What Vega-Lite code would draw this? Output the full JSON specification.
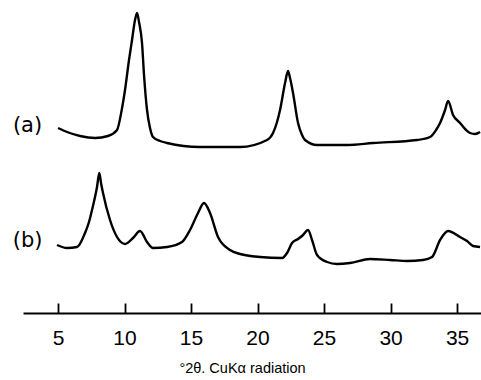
{
  "$schema": "https://vega.github.io/schema/vega-lite/v6.json",
  "width": 458,
  "height": 313,
  "autosize": "none",
  "padding": {"left": 23, "right": 0, "top": 0, "bottom": 67},
  "config": {"view": {"stroke": null}, "font": "Liberation Sans"},
  "datasets": {
    "curves": [
      {"series": "a", "x": 5.00, "y": 185}, {"series": "a", "x": 5.68, "y": 181}, {"series": "a", "x": 6.654, "y": 177},
      {"series": "a", "x": 7.782, "y": 175}, {"series": "a", "x": 8.759, "y": 177}, {"series": "a", "x": 9.436, "y": 183},
      {"series": "a", "x": 9.789, "y": 203}, {"series": "a", "x": 10.037, "y": 223}, {"series": "a", "x": 10.338, "y": 253},
      {"series": "a", "x": 10.564, "y": 273}, {"series": "a", "x": 10.789, "y": 293}, {"series": "a", "x": 10.94, "y": 300},
      {"series": "a", "x": 11.09, "y": 291}, {"series": "a", "x": 11.316, "y": 270}, {"series": "a", "x": 11.466, "y": 238},
      {"series": "a", "x": 11.692, "y": 203}, {"series": "a", "x": 11.917, "y": 185}, {"series": "a", "x": 12.143, "y": 176},
      {"series": "a", "x": 12.669, "y": 172}, {"series": "a", "x": 13.195, "y": 170}, {"series": "a", "x": 15.677, "y": 166},
      {"series": "a", "x": 18.684, "y": 166}, {"series": "a", "x": 20.714, "y": 173}, {"series": "a", "x": 21.165, "y": 180},
      {"series": "a", "x": 21.466, "y": 191}, {"series": "a", "x": 21.692, "y": 203}, {"series": "a", "x": 22.068, "y": 230},
      {"series": "a", "x": 22.293, "y": 242}, {"series": "a", "x": 22.444, "y": 235}, {"series": "a", "x": 22.669, "y": 220},
      {"series": "a", "x": 23.045, "y": 190}, {"series": "a", "x": 23.346, "y": 178}, {"series": "a", "x": 23.571, "y": 173},
      {"series": "a", "x": 24.474, "y": 168}, {"series": "a", "x": 26.729, "y": 168}, {"series": "a", "x": 28.684, "y": 170},
      {"series": "a", "x": 31.992, "y": 173}, {"series": "a", "x": 32.97, "y": 176}, {"series": "a", "x": 33.421, "y": 183},
      {"series": "a", "x": 33.722, "y": 190}, {"series": "a", "x": 34.098, "y": 203}, {"series": "a", "x": 34.323, "y": 212},
      {"series": "a", "x": 34.699, "y": 198}, {"series": "a", "x": 35.226, "y": 190}, {"series": "a", "x": 35.677, "y": 183},
      {"series": "a", "x": 35.977, "y": 180}, {"series": "a", "x": 36.353, "y": 179}, {"series": "a", "x": 36.729, "y": 181},
      {"series": "b", "x": 4.924, "y": 68}, {"series": "b", "x": 5.68, "y": 65}, {"series": "b", "x": 6.428, "y": 66},
      {"series": "b", "x": 7.03, "y": 80}, {"series": "b", "x": 7.33, "y": 91},
      {"series": "b", "x": 7.556, "y": 103}, {"series": "b", "x": 7.932, "y": 126}, {"series": "b", "x": 8.105, "y": 140},
      {"series": "b", "x": 8.233, "y": 130}, {"series": "b", "x": 8.383, "y": 120}, {"series": "b", "x": 8.91, "y": 93},
      {"series": "b", "x": 9.436, "y": 76}, {"series": "b", "x": 10.037, "y": 69}, {"series": "b", "x": 10.639, "y": 75},
      {"series": "b", "x": 11.165, "y": 82}, {"series": "b", "x": 11.692, "y": 71}, {"series": "b", "x": 12.143, "y": 65},
      {"series": "b", "x": 13.195, "y": 66}, {"series": "b", "x": 14.323, "y": 71}, {"series": "b", "x": 14.925, "y": 83},
      {"series": "b", "x": 15.526, "y": 100}, {"series": "b", "x": 15.977, "y": 110}, {"series": "b", "x": 16.428, "y": 100},
      {"series": "b", "x": 17.03, "y": 76}, {"series": "b", "x": 17.932, "y": 63}, {"series": "b", "x": 18.684, "y": 59},
      {"series": "b", "x": 20.188, "y": 56}, {"series": "b", "x": 21.842, "y": 55}, {"series": "b", "x": 22.218, "y": 60},
      {"series": "b", "x": 22.594, "y": 70}, {"series": "b", "x": 23.045, "y": 74}, {"series": "b", "x": 23.421, "y": 78},
      {"series": "b", "x": 23.797, "y": 83}, {"series": "b", "x": 24.098, "y": 73}, {"series": "b", "x": 24.474, "y": 58},
      {"series": "b", "x": 25.226, "y": 51}, {"series": "b", "x": 25.977, "y": 49}, {"series": "b", "x": 26.955, "y": 50},
      {"series": "b", "x": 28.459, "y": 54}, {"series": "b", "x": 29.962, "y": 53}, {"series": "b", "x": 31.241, "y": 52},
      {"series": "b", "x": 32.444, "y": 53}, {"series": "b", "x": 33.12, "y": 56}, {"series": "b", "x": 33.722, "y": 73},
      {"series": "b", "x": 34.323, "y": 82}, {"series": "b", "x": 35.226, "y": 76}, {"series": "b", "x": 35.752, "y": 72},
      {"series": "b", "x": 36.203, "y": 67}, {"series": "b", "x": 36.729, "y": 66}
    ],
    "labels": [
      {"label": "(a)", "x": 2.71, "y": 187},
      {"label": "(b)", "x": 2.71, "y": 72.5}
    ]
  },
  "layer": [
    {
      "data": {"name": "curves"},
      "mark": {"type": "line", "interpolate": "monotone", "color": "#000000", "strokeWidth": 2.4},
      "encoding": {
        "x": {
          "field": "x", "type": "quantitative",
          "scale": {"domain": [2.368, 36.8], "nice": false, "zero": false},
          "axis": {
            "values": [5, 10, 15, 20, 25, 30, 35],
            "grid": false,
            "domainColor": "#000000", "domainWidth": 2,
            "tickColor": "#000000", "tickWidth": 1.8, "tickSize": -10,
            "labelFontSize": 21, "labelColor": "#000000", "labelPadding": 24,
            "labelFont": "Liberation Sans",
            "title": "°2θ. CuKα radiation",
            "titleFontSize": 14.5, "titleFontWeight": "normal", "titleColor": "#000000",
            "titleFont": "Liberation Sans",
            "titleX": 219, "titleY": 48, "titleAnchor": null
          }
        },
        "y": {
          "field": "y", "type": "quantitative",
          "scale": {"domain": [0, 313], "nice": false},
          "axis": null
        },
        "detail": {"field": "series"}
      }
    },
    {
      "data": {"name": "labels"},
      "mark": {"type": "text", "fontSize": 21, "fontWeight": "normal", "color": "#000000", "align": "center", "baseline": "middle", "font": "DejaVu Sans"},
      "encoding": {
        "x": {"field": "x", "type": "quantitative"},
        "y": {"field": "y", "type": "quantitative"},
        "text": {"field": "label"}
      }
    }
  ]
}
